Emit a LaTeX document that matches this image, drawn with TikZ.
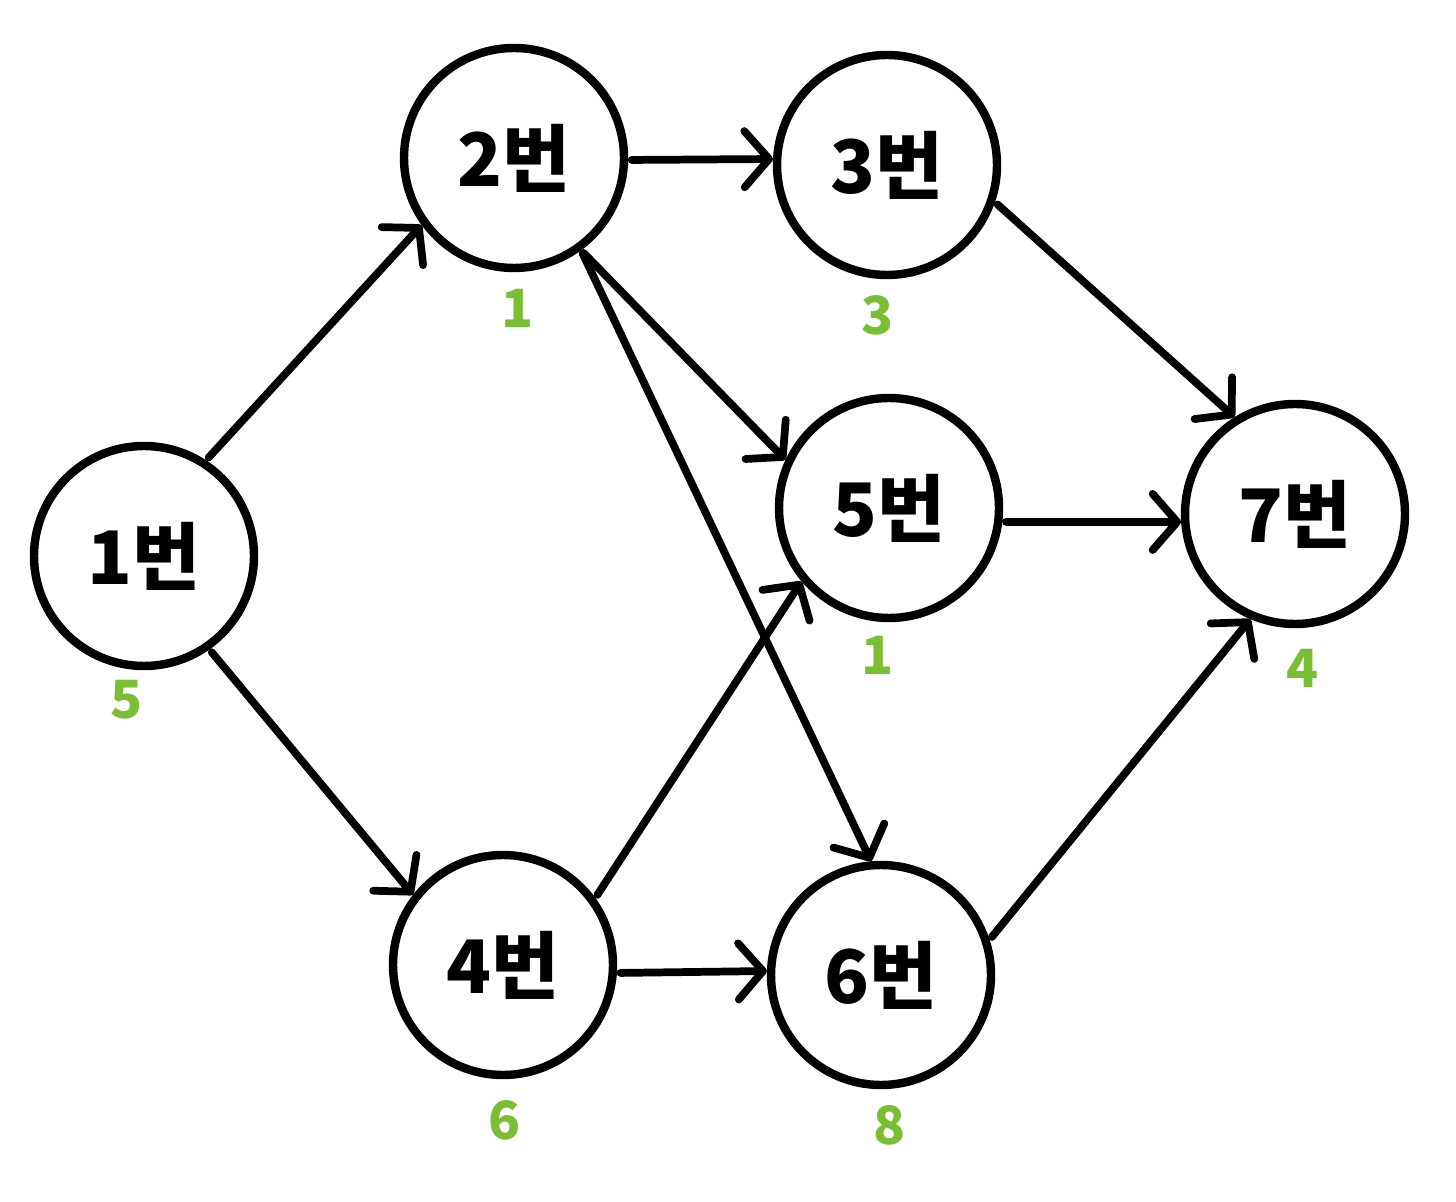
\documentclass[tikz,border=0pt]{standalone}
\usepackage{fontspec}
\newfontfamily\kor{Noto Sans CJK KR}
\usetikzlibrary{arrows.meta}
\definecolor{leafgreen}{RGB}{122,190,52}

\begin{document}
\begin{tikzpicture}[>={Straight Barb[length=7pt,width=16pt,round]},
  vertex/.style={circle,draw,line width=2.4pt,minimum size=2.2cm,inner sep=0pt,font=\kor\fontsize{21}{24}\selectfont\bfseries},
  weight/.style={text=leafgreen,font=\kor\fontsize{15}{18}\selectfont\bfseries},
  edge/.style={->,line width=2.2pt,line cap=round,shorten <=1pt}]
\useasboundingbox (0,0) rectangle (14.56,12.01);
\node[vertex] (v1) at (1.44,6.45) {1번};
\node[vertex] (v2) at (5.14,10.43) {2번};
\node[vertex] (v3) at (8.87,10.36) {3번};
\node[vertex] (v5) at (8.89,6.93) {5번};
\node[vertex] (v7) at (12.95,6.87) {7번};
\node[vertex] (v4) at (5.03,2.36) {4번};
\node[vertex] (v6) at (8.81,2.26) {6번};
\node[weight] (w1) at (1.27,5.01) {5};
\node[weight] (w2) at (5.18,8.93) {1};
\node[weight] (w3) at (8.78,8.86) {3};
\node[weight] (w5) at (8.78,5.46) {1};
\node[weight] (w7) at (13.03,5.33) {4};
\node[weight] (w4) at (5.05,0.81) {6};
\node[weight] (w6) at (8.90,0.76) {8};
% from/angle/to/angle
\foreach \a/\p/\b/\q in {1/57/2/216,1/-55/4/142,2/-1/3/177,2/-54/5/155,2/-54/6/95,
    3/-19/7/122,4/36/5/220,4/-4/6/178,5/-7/7/184,6/18/7/247}
  \draw[edge] (v\a.\p) -- (v\b.\q);
\end{tikzpicture}
\end{document}
